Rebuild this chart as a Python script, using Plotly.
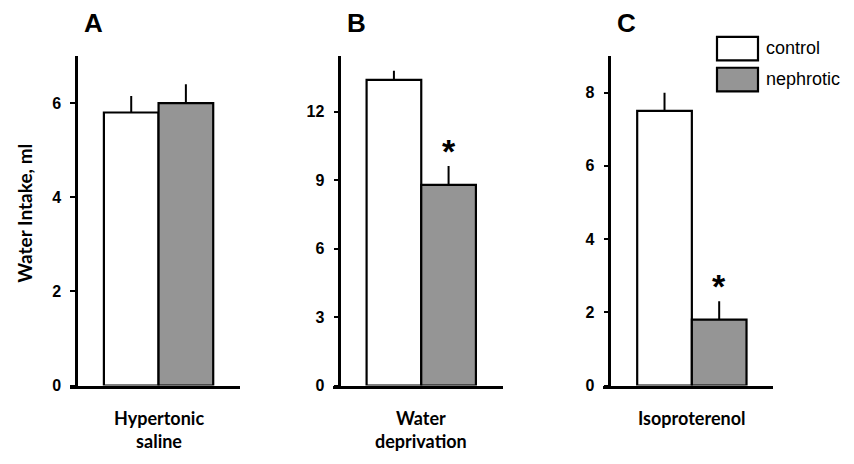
import plotly.graph_objects as go

# ---- data ----
groups = ["control", "nephrotic"]
panel_letters = ["A", "B", "C"]
panel_labels = ["Hypertonic<br>saline", "Water<br>deprivation", "Isoproterenol"]
control_mean = [5.8, 13.4, 7.5]
control_sem = [0.35, 0.4, 0.5]
nephrotic_mean = [6.0, 8.8, 1.8]
nephrotic_sem = [0.4, 0.83, 0.5]
significant = [False, True, True]
y_max = [7, 14.45, 9]
y_dtick = [2, 3, 2]
y_title = "Water Intake, ml"

colors = {"control": "#ffffff", "nephrotic": "#959595"}

# page has an 8px body margin on every side; the figure fills what is left
OFF = 8
W, H = 854 - 2 * OFF, 464 - 2 * OFF
def px(x):
    return (x - OFF) / W
def py(y):
    return 1 - (y - OFF) / H

# panel geometry (screen pixels)
x_left = [70, 332.7, 603.3]
x_width = 170
yaxis_pos = [76, 339.3, 609.3]
y_top, y_bot = 57, 393.3
xr = [-1.12, 1.99]

fig = go.Figure()
annotations = []
for i in range(3):
    xa = "x" if i == 0 else f"x{i+1}"
    ya = "y" if i == 0 else f"y{i+1}"
    means = [control_mean[i], nephrotic_mean[i]]
    sems = [control_sem[i], nephrotic_sem[i]]
    for g, m, s in zip(groups, means, sems):
        fig.add_trace(go.Bar(
            x=[g], y=[m], width=1,
            marker=dict(color=colors[g], line=dict(color="black", width=2.2)),
            error_y=dict(type="data", array=[s], arrayminus=[0], symmetric=False,
                         color="black", thickness=2, width=0),
            xaxis=xa, yaxis=ya, showlegend=False, name=g,
        ))
    xkey = "xaxis" if i == 0 else f"xaxis{i+1}"
    ykey = "yaxis" if i == 0 else f"yaxis{i+1}"
    fig.layout[xkey] = dict(
        domain=[px(x_left[i]), px(x_left[i] + x_width)],
        type="category", categoryorder="array", categoryarray=groups,
        range=xr, anchor=ya, showline=True, linecolor="black", linewidth=2.5,
        showticklabels=False, ticks="", showgrid=False, zeroline=False,
    )
    fig.layout[ykey] = dict(
        domain=[py(y_bot), py(y_top)],
        range=[0, y_max[i]], dtick=y_dtick[i], tick0=0,
        anchor="free", position=px(yaxis_pos[i]),
        showline=True, linecolor="black", linewidth=2.5,
        ticks="outside", ticklen=5, tickwidth=2, tickcolor="black",
        ticklabelstandoff=6,
        tickfont=dict(family="Liberation Sans", size=16, color="black", weight="bold"),
        showgrid=False, zeroline=False,
    )
    # panel letter
    annotations.append(dict(
        text=panel_letters[i], xref="paper", yref="paper",
        x=px(yaxis_pos[i] + 17), y=py(23), xanchor="center", yanchor="middle",
        showarrow=False, font=dict(family="Liberation Sans", size=26, color="black", weight="bold"),
    ))
    # category label
    annotations.append(dict(
        text=panel_labels[i], xref=xa, yref="paper",
        x=0.5, y=py(413), xanchor="center", yanchor="top",
        showarrow=False, align="center",
        font=dict(family="Lato", size=18, color="black", weight="bold"),
    ))
    if significant[i]:
        annotations.append(dict(
            text="*", xref=xa, yref=ya,
            x=1, y=nephrotic_mean[i] + nephrotic_sem[i],
            xanchor="center", yanchor="middle", yshift=15,
            showarrow=False,
            font=dict(family="Liberation Sans", size=34, color="black", weight="bold"),
        ))

# y-axis title
annotations.append(dict(
    text=y_title, xref="paper", yref="paper", x=px(25), y=py(218),
    xanchor="center", yanchor="middle", textangle=-90, showarrow=False,
    font=dict(family="Lato", size=19, color="black", weight="bold"),
))

# manual legend
shapes = []
leg_boxes = [(37.5, 61.5), (69, 93)]
for g, (t, b) in zip(groups, leg_boxes):
    shapes.append(dict(type="rect", xref="paper", yref="paper",
                       x0=px(717), x1=px(758), y0=py(b), y1=py(t),
                       fillcolor=colors[g], line=dict(color="black", width=2.2)))
    annotations.append(dict(
        text=g, xref="paper", yref="paper", x=px(764), y=py((t + b) / 2 - 1),
        xanchor="left", yanchor="middle", showarrow=False,
        font=dict(family="Liberation Sans", size=18, color="black"),
    ))

fig.update_layout(
    width=W, height=H, margin=dict(l=0, r=0, t=0, b=0),
    paper_bgcolor="white", plot_bgcolor="white",
    barmode="overlay", annotations=annotations, shapes=shapes,
    showlegend=False,
)

fig.write_html("out.html")
